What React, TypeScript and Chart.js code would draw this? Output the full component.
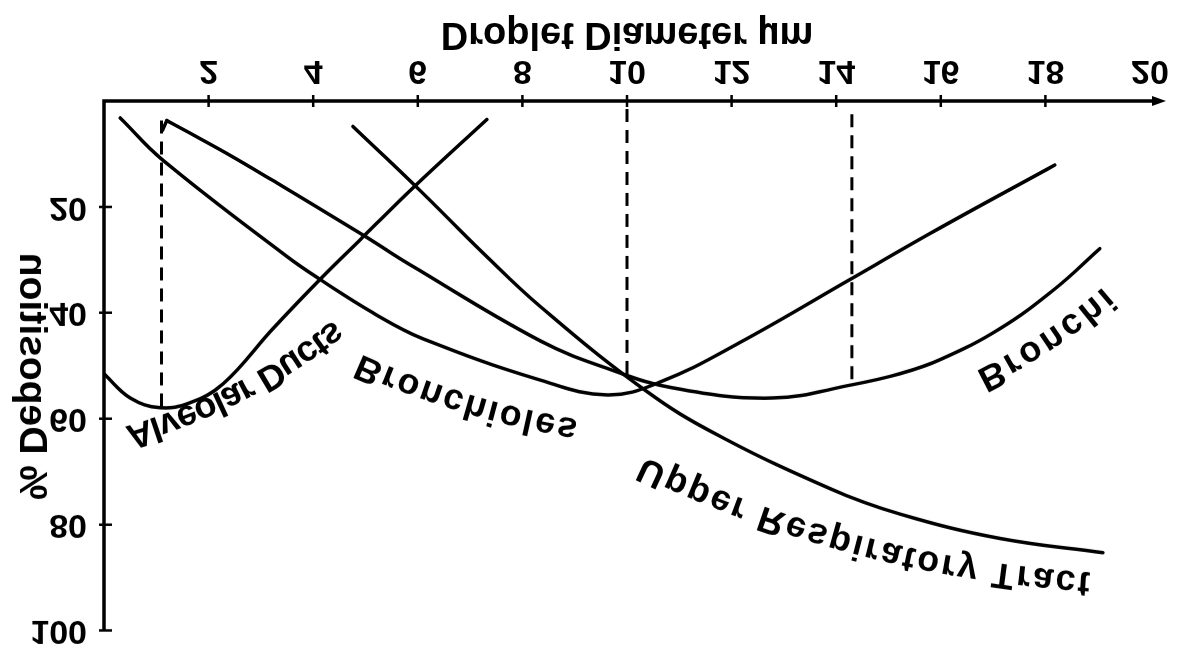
import React, { useEffect, useRef } from 'react';
import { Chart, registerables } from 'chart.js';

Chart.register(...registerables);

// Tick labels
const xTicks = [2, 4, 6, 8, 10, 12, 14, 16, 18, 20];
const yTicks = [20, 40, 60, 80, 100];

// Alveolar Ducts
const alveolarX = [0, 0.5, 1.07, 1.64, 2.28, 3.23, 4.13, 4.95, 5.95, 7.32];
const alveolarY = [51.5, 56.1, 57.9, 57.0, 53.4, 43.0, 33.7, 25.7, 16.0, 3.5];

// Bronchioles
const bronchiolesX = [0.31, 1.13, 3.5, 4.13, 5.14, 6.1, 8.34, 9.62, 10.63, 12.16, 14.3, 15.98, 18.18];
const bronchiolesY = [3.2, 11.2, 29.4, 33.7, 40.0, 44.9, 52.7, 55.5, 53.1, 45.6, 33.5, 24.0, 12.1];

// Bronchi (first point is the small hook at its start)
const bronchiX = [1.12, 1.2, 2.35, 3.31, 4.95, 5.85, 8.34, 9.62, 10.88, 12.79, 14.3, 15.22, 16.0, 17.13, 18.18, 19.04];
const bronchiY = [5.5, 3.7, 9.9, 15.5, 25.3, 30.9, 45.3, 50.5, 54.2, 56.1, 53.6, 51.5, 48.8, 43.0, 35.5, 27.9];

// Upper Respiratory Tract
const urtX = [4.76, 5.95, 7.32, 8.34, 10.19, 11.53, 13.88, 15.22, 17.13, 19.1];
const urtY = [4.8, 16.0, 29.4, 38.8, 53.5, 62.0, 73.2, 78.0, 82.6, 85.3];

// Dashed reference lines
const dashAX = [1.1, 1.1];
const dashAY = [3.7, 58];
const dashBX = [10.0, 10.0];
const dashBY = [1.5, 51.6];
const dashCX = [14.3, 14.3];
const dashCY = [2.5, 53.3];

// Curve labels
const labelTexts = ['Alveolar Ducts', 'Bronchioles', 'Upper Respiratory Tract', 'Bronchi'];
const labelStartX = [0.44, 4.84, 10.25, 16.75];
const labelStartY = [63.3, 49.5, 68.9, 52.7];
const labelEndX = [4.5, 9.04, 18.85, 19.23];
const labelEndY = [42.8, 62.0, 90.9, 36.5];
const labelBow = [24, 15, 45, 10];

const FONT = '"Liberation Sans", Arial, Helvetica, sans-serif';

function drawCurvedText(
  ctx: CanvasRenderingContext2D,
  text: string,
  p0: { x: number; y: number },
  p2: { x: number; y: number },
  bow: number
) {
  const dx = p2.x - p0.x;
  const dy = p2.y - p0.y;
  const L = Math.hypot(dx, dy);
  const nx = dy / L;
  const ny = -dx / L;
  const c = { x: (p0.x + p2.x) / 2 + nx * bow, y: (p0.y + p2.y) / 2 + ny * bow };
  const N = 300;
  const pts: { x: number; y: number; s: number }[] = [];
  let acc = 0;
  for (let i = 0; i <= N; i++) {
    const t = i / N;
    const x = (1 - t) * (1 - t) * p0.x + 2 * (1 - t) * t * c.x + t * t * p2.x;
    const y = (1 - t) * (1 - t) * p0.y + 2 * (1 - t) * t * c.y + t * t * p2.y;
    if (i > 0) acc += Math.hypot(x - pts[i - 1].x, y - pts[i - 1].y);
    pts.push({ x, y, s: acc });
  }
  const total = acc;
  const chars = Array.from(text);
  const widths = chars.map((ch) => ctx.measureText(ch).width);
  const W = widths.reduce((a, b) => a + b, 0);
  const extra = chars.length > 1 ? (total - W) / (chars.length - 1) : 0;
  let s = 0;
  chars.forEach((ch, i) => {
    const mid = s + widths[i] / 2;
    let k = 1;
    while (k < pts.length - 1 && pts[k].s < mid) k++;
    const a = pts[k - 1];
    const b = pts[k];
    const f = b.s > a.s ? (mid - a.s) / (b.s - a.s) : 0;
    const px = a.x + (b.x - a.x) * f;
    const py = a.y + (b.y - a.y) * f;
    const ang = Math.atan2(b.y - a.y, b.x - a.x);
    ctx.save();
    ctx.translate(px, py);
    ctx.rotate(ang);
    ctx.fillText(ch, 0, 0);
    ctx.restore();
    s += widths[i] + extra;
  });
}

export default function App() {
  const ref = useRef<HTMLCanvasElement>(null);

  useEffect(() => {
    const canvas = ref.current;
    if (!canvas) return;
    const toPts = (xs: number[], ys: number[]) => xs.map((x, i) => ({ x, y: ys[i] }));
    const curve = (label: string, xs: number[], ys: number[], tension = 0.4) => ({
      label,
      data: toPts(xs, ys),
      borderColor: '#000',
      borderWidth: 3.5,
      pointRadius: 0,
      tension,
      borderCapStyle: 'round' as const,
      borderJoinStyle: 'round' as const,
      fill: false,
    });
    const dashed = (label: string, xs: number[], ys: number[]) => ({
      label,
      data: toPts(xs, ys),
      borderColor: '#000',
      borderWidth: 3,
      pointRadius: 0,
      tension: 0,
      borderDash: [13, 8],
      fill: false,
    });

    const decorPlugin = {
      id: 'decor',
      afterDraw(chart: any) {
        const { ctx } = chart;
        const xs = chart.scales.x;
        const ys = chart.scales.y;
        const x0 = xs.getPixelForValue(0);
        const y0 = ys.getPixelForValue(0);
        const yTop = ys.getPixelForValue(100);
        ctx.save();
        ctx.strokeStyle = '#000';
        ctx.fillStyle = '#000';
        ctx.lineWidth = 3.5;
        ctx.beginPath();
        ctx.moveTo(x0, yTop);
        ctx.lineTo(x0, y0);
        const tip = xs.getPixelForValue(20) + 16;
        ctx.lineTo(tip - 8, y0);
        ctx.stroke();
        ctx.beginPath();
        ctx.moveTo(tip, y0);
        ctx.lineTo(tip - 14, y0 - 5);
        ctx.lineTo(tip - 14, y0 + 5);
        ctx.closePath();
        ctx.fill();
        ctx.lineWidth = 2.5;
        ctx.beginPath();
        xTicks.filter((v) => v < 20).forEach((v) => {
          const px = xs.getPixelForValue(v);
          ctx.moveTo(px, y0 - 6);
          ctx.lineTo(px, y0 + 6);
        });
        yTicks.forEach((v) => {
          const py = ys.getPixelForValue(v);
          ctx.moveTo(x0 - 5, py);
          ctx.lineTo(x0 + 8, py);
        });
        ctx.stroke();

        // y-axis title
        ctx.font = `bold 39px ${FONT}`;
        ctx.textAlign = 'center';
        ctx.textBaseline = 'middle';
        ctx.save();
        ctx.translate(31, ys.getPixelForValue(52));
        ctx.rotate(Math.PI / 2);
        ctx.fillText('% Deposition', 0, 0);
        ctx.restore();

        // curve labels
        ctx.font = `bold 36px ${FONT}`;
        labelTexts.forEach((t, i) => {
          const p0 = { x: xs.getPixelForValue(labelStartX[i]), y: ys.getPixelForValue(labelStartY[i]) };
          const p2 = { x: xs.getPixelForValue(labelEndX[i]), y: ys.getPixelForValue(labelEndY[i]) };
          drawCurvedText(ctx, t, p0, p2, labelBow[i]);
        });
        ctx.restore();
      },
    };

    const chart = new Chart(canvas, {
      type: 'line',
      data: {
        datasets: [
          curve('Alveolar Ducts', alveolarX, alveolarY),
          curve('Bronchioles', bronchiolesX, bronchiolesY),
          curve('Bronchi hook', bronchiX.slice(0, 2), bronchiY.slice(0, 2), 0),
          curve('Bronchi', bronchiX.slice(1), bronchiY.slice(1)),
          curve('Upper Respiratory Tract', urtX, urtY),
          dashed('dashA', dashAX, dashAY),
          dashed('dashB', dashBX, dashBY),
          dashed('dashC', dashCX, dashCY),
        ] as any,
      },
      options: {
        responsive: false,
        animation: false,
        devicePixelRatio: 1,
        layout: { padding: { left: 0, right: 37, top: 20, bottom: 0 } },
        plugins: { legend: { display: false }, tooltip: { enabled: false } },
        scales: {
          x: {
            type: 'linear',
            position: 'bottom',
            min: 0,
            max: 20,
            afterBuildTicks: (scale: any) => {
              scale.ticks = xTicks.map((v) => ({ value: v }));
            },
            afterFit: (scale: any) => {
              scale.height = 101;
            },
            ticks: {
              color: '#000',
              font: { family: FONT, size: 34, weight: 'bold' },
              padding: 2,
              maxRotation: 0,
              autoSkip: false,
            },
            grid: { display: false },
            border: { display: false },
            title: {
              display: true,
              text: 'Droplet Diameter µm',
              color: '#000',
              font: { family: FONT, size: 38, weight: 'bold' },
              padding: { top: 0, bottom: 11 },
            },
          },
          y: {
            type: 'linear',
            min: 0,
            max: 100,
            afterBuildTicks: (scale: any) => {
              scale.ticks = yTicks.map((v) => ({ value: v }));
            },
            afterFit: (scale: any) => {
              scale.width = 104;
            },
            ticks: {
              color: '#000',
              font: { family: FONT, size: 34, weight: 'bold' },
              padding: 9,
              autoSkip: false,
            },
            grid: { display: false },
            border: { display: false },
          },
        },
      } as any,
      plugins: [decorPlugin],
    });
    return () => chart.destroy();
  }, []);

  return (
    <div style={{ position: 'absolute', left: 0, top: 0, width: 1187, height: 660, background: '#fff' }}>
      <canvas
        ref={ref}
        width={1187}
        height={660}
        style={{ display: 'block', width: 1187, height: 660, transform: 'scaleY(-1)' }}
      />
    </div>
  );
}
